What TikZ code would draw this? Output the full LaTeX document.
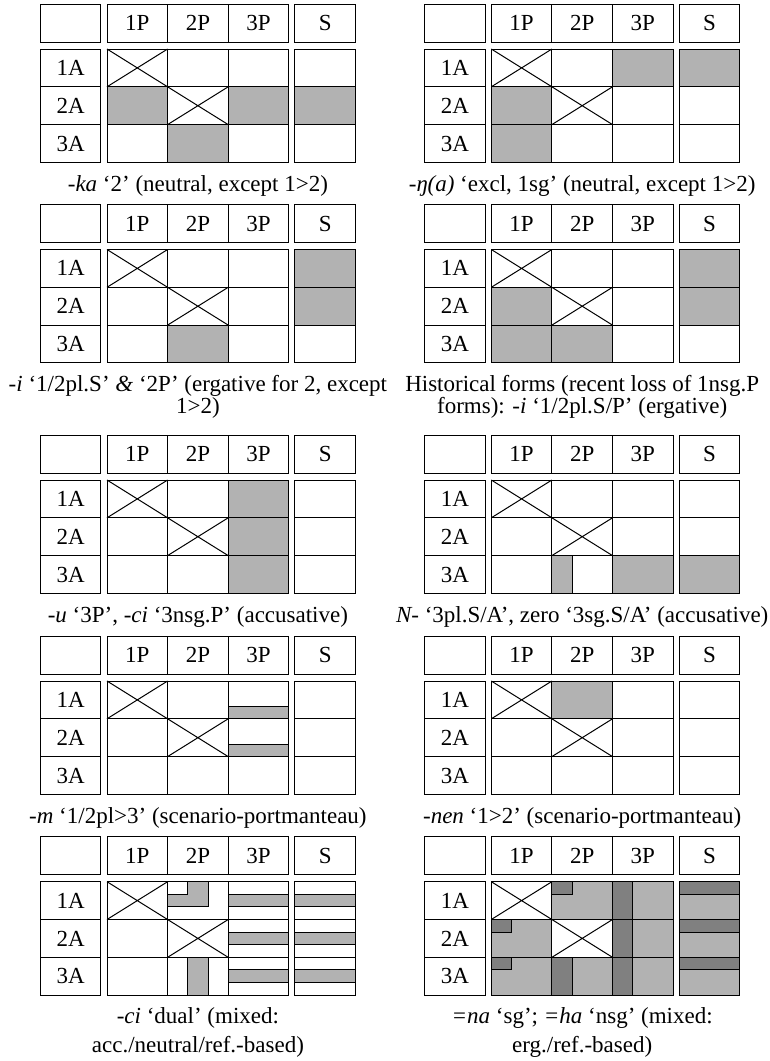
\documentclass[tikz,border=0pt]{standalone}
\usepackage{fontspec}
\setmainfont{Liberation Serif}

\tikzset{
  panel/.style 2 args={shift={(#1,#2)}, x=30.3pt, y=-18.9pt},
  lite/.style={fill=black!30},
  strip/.style={fill=black!30, draw=black},
  dark/.style={fill=black!50, draw=black},
  captext/.style={anchor=base, align=center},
}

\begin{document}
\begin{tikzpicture}[x=0.5pt, y=-0.5pt, line width=0.5pt, font=\fontsize{11.5pt}{11pt}\selectfont]
\useasboundingbox (0,0) rectangle (770,1061);
% Shading of the ten panels, row by row
\begin{scope}[panel={107}{49}]
  \fill[lite] (0,1) rectangle (1,2) (2,1) rectangle (3,2) (3.1,1) rectangle (4.1,2) (1,2) rectangle (2,3);
\end{scope}
\begin{scope}[panel={491.3}{49}]
  \fill[lite] (2,0) rectangle (3,1) (3.1,0) rectangle (4.1,1) (0,1) rectangle (1,3);
\end{scope}
\begin{scope}[panel={107}{249.5}]
  \fill[lite] (3.1,0) rectangle (4.1,2) (1,2) rectangle (2,3);
\end{scope}
\begin{scope}[panel={491.3}{249.5}]
  \fill[lite] (3.1,0) rectangle (4.1,2) (0,1) rectangle (1,3) (1,2) rectangle (2,3);
\end{scope}
\begin{scope}[panel={107}{480}]
  \fill[lite] (2,0) rectangle (3,3);
\end{scope}
\begin{scope}[panel={491.3}{480}]
  \fill[lite] (2,2) rectangle (3,3) (3.1,2) rectangle (4.1,3);
  \filldraw[strip] (1,2) rectangle +(1/3,1);
\end{scope}
\begin{scope}[panel={107}{681}]
  \filldraw[strip] (2,2/3) rectangle (3,1) (2,5/3) rectangle (3,2);
\end{scope}
\begin{scope}[panel={491.3}{681}]
  \fill[lite] (1,0) rectangle (2,1);
\end{scope}
\begin{scope}[panel={107}{881.7}]
  % L-shaped piece and bar in the 2P column
  \filldraw[strip] (1,1/3) -- (4/3,1/3) -- (4/3,0) -- (5/3,0) -- (5/3,2/3) -- (1,2/3) -- cycle;
  \filldraw[strip] (4/3,2) rectangle (5/3,3);
  \foreach \r in {0,1,2}
    \filldraw[strip] (2,\r+1/3) rectangle (3,\r+2/3) (3.1,\r+1/3) rectangle (4.1,\r+2/3);
\end{scope}
\begin{scope}[panel={491.3}{881.7}]
  \fill[lite] (1,0) rectangle (3,1) (0,1) rectangle (1,3) (1,2) rectangle (3,3) (2,1) rectangle (3,2) (3.1,0) rectangle (4.1,3);
  \filldraw[dark] (1,0) rectangle +(1/3,1/3) (0,1) rectangle +(1/3,1/3) (0,2) rectangle +(1/3,1/3) (1,2) rectangle +(1/3,1);
  \foreach \r in {0,1,2}
    \filldraw[dark] (2,\r) rectangle +(1/3,1) (3.1,\r) rectangle +(1,1/3);
\end{scope}
% Grid, labels and crossed-out cells of every panel
\foreach \n/\X/\Y in {a/107/49, b/491.3/49, c/107/249.5, d/491.3/249.5, e/107/480,
                      f/491.3/480, g/107/681, h/491.3/681, i/107/881.7, j/491.3/881.7} {
  \begin{scope}[panel={\X}{\Y}]
    \draw (-1.1,-1.185) rectangle +(1,1);
    \foreach \c/\t in {0/1P, 1/2P, 2/3P, 3.1/S}
      \draw (\c,-1.185) rectangle node (\n-\t) {\t} +(1,1);
    \foreach \r in {1,2,3} {
      \draw (-1.1,\r-1) rectangle node (\n-A\r) {\r A} +(1,1);
      \foreach \c in {0,1,2}
        \draw (\c,\r-1) rectangle +(1,1);
      \draw (3.1,\r-1) rectangle +(1,1);
    }
    \draw (0,0) -- (1,1) (0,1) -- (1,0) (1,1) -- (2,2) (1,2) -- (2,1);
  \end{scope}
}
% Captions (base = last line)
\node[captext] (capa) at (197.9,191) {\textit{-ka} ‘2’ (neutral, except 1>2)};
\node[captext] (capb) at (582.2,191) {\textit{-ŋ(a)} ‘excl, 1sg’ (neutral, except 1>2)};
\node[captext] (capc) at (197.9,413.5) {\textit{-i} ‘1/2pl.S’ \textit{\&} ‘2P’ (ergative for 2, except\\1>2)};
\node[captext] (capd) at (582.2,413.5) {Historical forms (recent loss of 1nsg.P\\forms): \textit{-i} ‘1/2pl.S/P’ (ergative)};
\node[captext] (cape) at (197.9,622) {\textit{-u} ‘3P’, \textit{-ci} ‘3nsg.P’ (accusative)};
\node[captext] (capf) at (582.2,622) {\textit{N-} ‘3pl.S/A’, zero ‘3sg.S/A’ (accusative)};
\node[captext] (capg) at (197.9,823) {\textit{-m} ‘1/2pl>3’ (scenario-portmanteau)};
\node[captext] (caph) at (582.2,823) {\textit{-nen} ‘1>2’ (scenario-portmanteau)};
\node[captext] (capi) at (197.9,1052.7) {\textit{-ci} ‘dual’ (mixed:\\[3.5pt]acc./neutral/ref.-based)};
\node[captext] (capj) at (582.2,1052.7) {\textit{=na} ‘sg’; \textit{=ha} ‘nsg’ (mixed:\\[3.5pt]erg./ref.-based)};
\end{tikzpicture}
\end{document}
